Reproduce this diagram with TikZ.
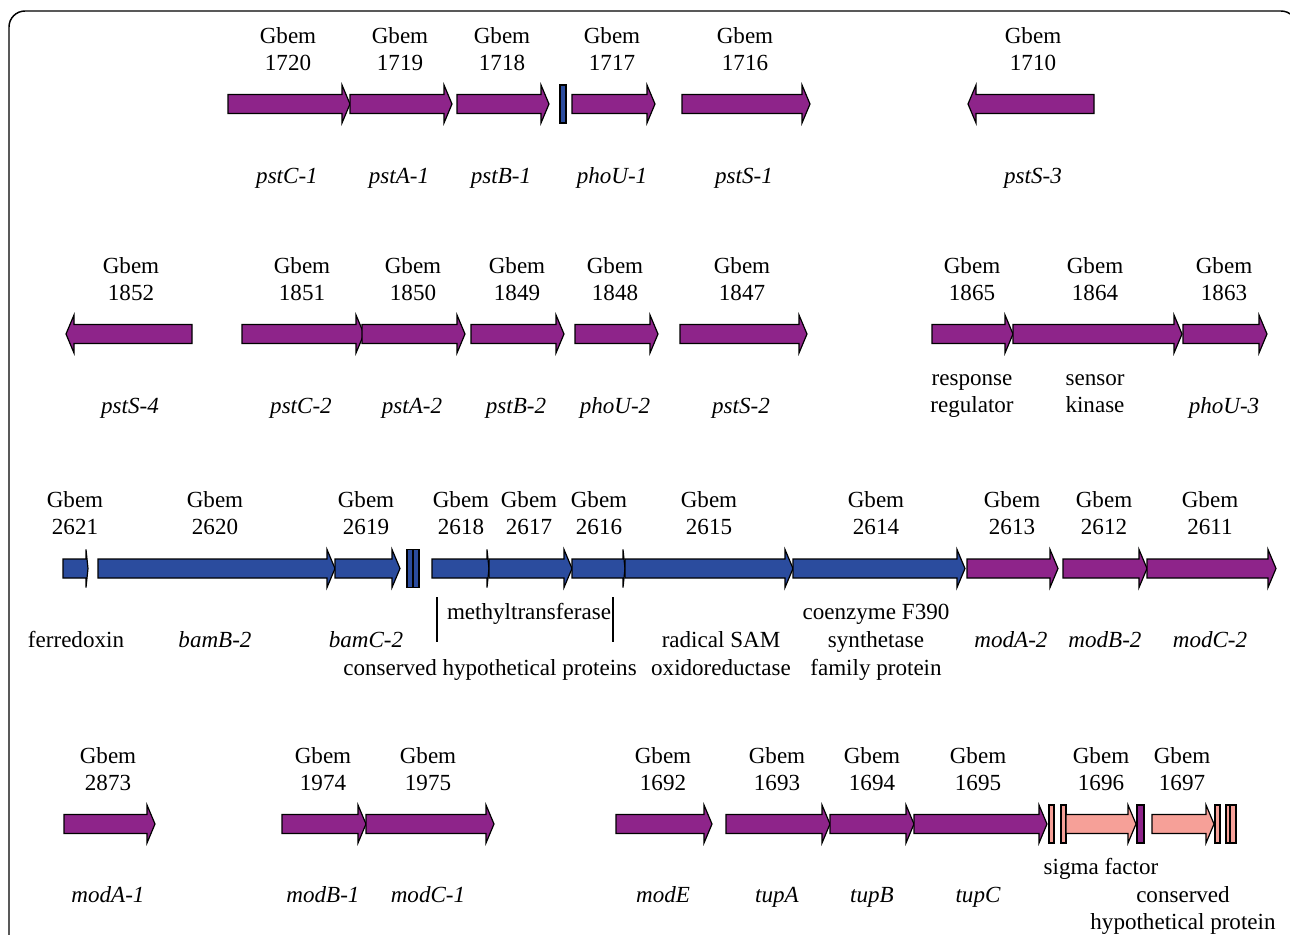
\documentclass[tikz,border=0pt]{standalone}
\usepackage{fontspec}
\setmainfont{Liberation Serif}
\definecolor{gpurple}{RGB}{142,36,138}
\definecolor{gblue}{RGB}{43,76,158}
\definecolor{gpink}{RGB}{246,160,152}
\tikzset{
  genestyle/.style={draw=black, line width=0.9pt, line join=miter},
  lbl/.style={anchor=base, inner sep=0pt, font=\fontsize{17.3}{20}\selectfont},
  nm/.style={anchor=base, inner sep=0pt, font=\fontsize{17.3}{20}\selectfont\itshape},
  brk/.style={draw=black, line width=0.8pt}
}
% right-pointing gene: [head length]{x1}{xtip}{yc}{colour}
\newcommand\gR[5][8]{\filldraw[genestyle, fill=#5] (#2,#4-9.5) -- (#3-#1,#4-9.5) -- (#3-#1,#4-19) -- (#3,#4) -- (#3-#1,#4+19) -- (#3-#1,#4+9.5) -- (#2,#4+9.5) -- cycle;}
% left-pointing gene: {xtip}{xright}{yc}{colour}
\newcommand\gL[4]{\filldraw[genestyle, fill=#4] (#1,#3) -- (#1+8,#3-19) -- (#1+8,#3-9.5) -- (#2,#3-9.5) -- (#2,#3+9.5) -- (#1+8,#3+9.5) -- (#1+8,#3+19) -- cycle;}
% small gene box
\newcommand\gB[4]{\filldraw[genestyle, fill=#4] (#1,#3-19) rectangle (#2,#3+19);}
% Gbem label: {x}{baseline}{number}
\newcommand\glab[3]{\node[lbl] (g#3) at (#1,#2) {Gbem}; \node[lbl] (n#3) at (#1,#2+27) {#3};}
\begin{document}
\begin{tikzpicture}[x=0.75pt,y=-0.75pt]
\useasboundingbox (0,0) rectangle (1290,935);
\begin{scope}
\clip (0,0) rectangle (1290,935);
\draw[line width=1.1pt, rounded corners=12] (9,11) rectangle (1297,970);
\end{scope}

% ---------- row 1 ----------
\gR{228}{350}{104}{gpurple}
\gR{350}{452}{104}{gpurple}
\gR{457}{549}{104}{gpurple}
\gB{560}{566}{104}{gblue}
\gR{572}{655}{104}{gpurple}
\gR{682}{810}{104}{gpurple}
\gL{968}{1094}{104}{gpurple}
\glab{288}{43}{1720}
\glab{400}{43}{1719}
\glab{502}{43}{1718}
\glab{612}{43}{1717}
\glab{745}{43}{1716}
\glab{1033}{43}{1710}
\node[nm] (pstC1) at (287,183) {pstC-1};
\node[nm] (pstA1) at (399,183) {pstA-1};
\node[nm] (pstB1) at (501,183) {pstB-1};
\node[nm] (phoU1) at (612,183) {phoU-1};
\node[nm] (pstS1) at (744,183) {pstS-1};
\node[nm] (pstS3) at (1033,183) {pstS-3};

% ---------- row 2 ----------
\gL{66}{192}{334}{gpurple}
\gR{242}{364}{334}{gpurple}
\gR{362}{465}{334}{gpurple}
\gR{471}{564}{334}{gpurple}
\gR{575}{658}{334}{gpurple}
\gR{680}{807}{334}{gpurple}
\gR{932}{1013}{334}{gpurple}
\gR{1013}{1182}{334}{gpurple}
\gR{1183}{1267}{334}{gpurple}
\glab{131}{273}{1852}
\glab{302}{273}{1851}
\glab{413}{273}{1850}
\glab{517}{273}{1849}
\glab{615}{273}{1848}
\glab{742}{273}{1847}
\glab{972}{273}{1865}
\glab{1095}{273}{1864}
\glab{1224}{273}{1863}
\node[nm] (pstS4) at (130,413) {pstS-4};
\node[nm] (pstC2) at (301,413) {pstC-2};
\node[nm] (pstA2) at (412,413) {pstA-2};
\node[nm] (pstB2) at (516,413) {pstB-2};
\node[nm] (phoU2) at (615,413) {phoU-2};
\node[nm] (pstS2) at (741,413) {pstS-2};
\node[lbl] (resp1) at (972,385) {response};
\node[lbl] (resp2) at (972,412) {regulator};
\node[lbl] (sens1) at (1095,385) {sensor};
\node[lbl] (sens2) at (1095,412) {kinase};
\node[nm] (phoU3) at (1224,413) {phoU-3};

% ---------- row 3 ----------
\gR[2]{63}{88}{568.5}{gblue}
\gR{98}{335}{568.5}{gblue}
\gR{335}{400}{568.5}{gblue}
\gB{407}{413}{568.5}{gblue}
\gB{413}{419}{568.5}{gblue}
\gR[2]{432}{489}{568.5}{gblue}
\gR{489}{572}{568.5}{gblue}
\gR[2]{572}{625}{568.5}{gblue}
\gR{625}{793}{568.5}{gblue}
\gR{793}{965}{568.5}{gblue}
\gR{967}{1058}{568.5}{gpurple}
\gR{1063}{1147}{568.5}{gpurple}
\gR{1147}{1276}{568.5}{gpurple}
\glab{75}{507}{2621}
\glab{215}{507}{2620}
\glab{366}{507}{2619}
\glab{461}{507}{2618}
\glab{529}{507}{2617}
\glab{599}{507}{2616}
\glab{709}{507}{2615}
\glab{876}{507}{2614}
\glab{1012}{507}{2613}
\glab{1104}{507}{2612}
\glab{1210}{507}{2611}
\node[lbl] (ferr) at (76,647) {ferredoxin};
\node[nm] (bamB2) at (215,647) {bamB-2};
\node[nm] (bamC2) at (366,647) {bamC-2};
\node[lbl] (meth) at (529,619) {methyltransferase};
\coordinate (bl1) at (437,597);
\coordinate (bl2) at (437,642);
\coordinate (br1) at (613,597);
\coordinate (br2) at (613,642);
\draw[brk] (bl1) -- (bl2);
\draw[brk] (br1) -- (br2);
\node[lbl] (chp) at (490,675) {conserved hypothetical proteins};
\node[lbl] (rsam1) at (721,647) {radical SAM};
\node[lbl] (rsam2) at (721,675) {oxidoreductase};
\node[lbl] (coe1) at (876,619) {coenzyme F390};
\node[lbl] (coe2) at (876,647) {synthetase};
\node[lbl] (coe3) at (876,675) {family protein};
\node[nm] (modA2) at (1011,647) {modA-2};
\node[nm] (modB2) at (1105,647) {modB-2};
\node[nm] (modC2) at (1210,647) {modC-2};

% ---------- row 4 ----------
\gR{64}{155}{824}{gpurple}
\gR{282}{366}{824}{gpurple}
\gR{366}{494}{824}{gpurple}
\gR{616}{712}{824}{gpurple}
\gR{726}{830}{824}{gpurple}
\gR{830}{914}{824}{gpurple}
\gR{914}{1047}{824}{gpurple}
\gB{1049}{1054}{824}{gpink}
\gB{1061}{1066}{824}{gpink}
\gR{1066}{1136}{824}{gpink}
\gB{1137}{1144}{824}{gpurple}
\gR{1152}{1214}{824}{gpink}
\gB{1215}{1220}{824}{gpink}
\gB{1226}{1230}{824}{gpink}
\gB{1230}{1236}{824}{gpink}
\glab{108}{763}{2873}
\glab{323}{763}{1974}
\glab{428}{763}{1975}
\glab{663}{763}{1692}
\glab{777}{763}{1693}
\glab{872}{763}{1694}
\glab{978}{763}{1695}
\glab{1101}{763}{1696}
\glab{1182}{763}{1697}
\node[nm] (modA1) at (108,902) {modA-1};
\node[nm] (modB1) at (323,902) {modB-1};
\node[nm] (modC1) at (428,902) {modC-1};
\node[nm] (modE) at (663,902) {modE};
\node[nm] (tupA) at (777,902) {tupA};
\node[nm] (tupB) at (872,902) {tupB};
\node[nm] (tupC) at (978,902) {tupC};
\node[lbl] (sigma) at (1101,874) {sigma factor};
\node[lbl] (chp2a) at (1183,902) {conserved};
\node[lbl] (chp2b) at (1183,929) {hypothetical protein};
\end{tikzpicture}
\end{document}
